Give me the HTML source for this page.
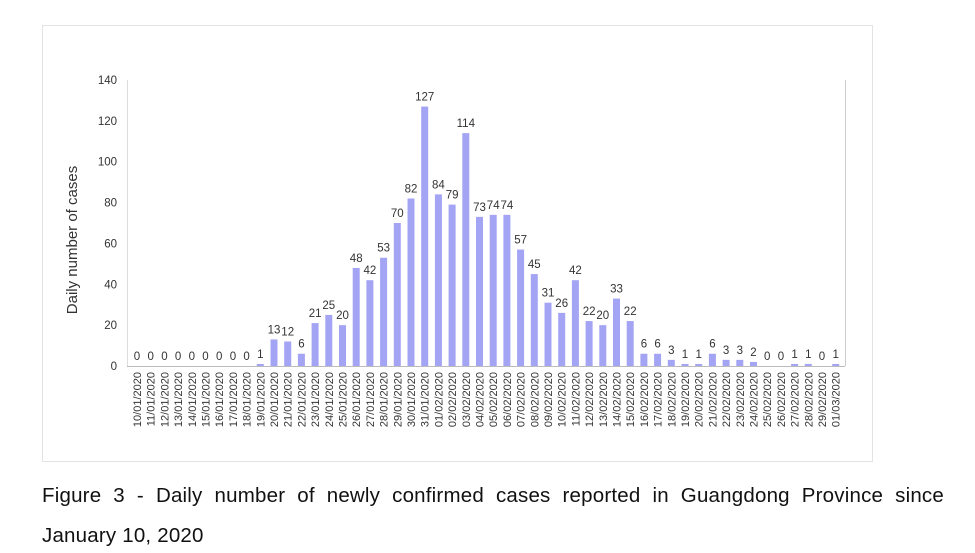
<!DOCTYPE html>
<html><head><meta charset="utf-8"><style>
body{margin:0;background:#fff;width:975px;height:553px;overflow:hidden;font-family:"Liberation Sans",sans-serif}
.cap{position:absolute;left:42px;width:902px;font-size:20.5px;color:#111;text-align:justify;text-align-last:justify;letter-spacing:0.2px}
</style></head><body>
<svg width="975" height="553" style="position:absolute;left:0;top:0" font-family="Liberation Sans, sans-serif">
<rect x="42.5" y="25.5" width="830" height="436" fill="#fff" stroke="#e3e3e3"/>
<g id="g"></g>
</svg>
<div class="cap" style="top:484px">Figure 3 - Daily number of newly confirmed cases reported in Guangdong Province since</div>
<div class="cap" style="top:524px;text-align-last:left">January 10, 2020</div>
<script>
const v=[0,0,0,0,0,0,0,0,0,1,13,12,6,21,25,20,48,42,53,70,82,127,84,79,114,73,74,74,57,45,31,26,42,22,20,33,22,6,6,3,1,1,6,3,3,2,0,0,1,1,0,1];
const d=[];for(let i=10;i<=31;i++)d.push(String(i).padStart(2,'0')+'/01/2020');for(let i=1;i<=29;i++)d.push(String(i).padStart(2,'0')+'/02/2020');d.push('01/03/2020');
let s='';const y0=366,k=(366-80)/140,x0=137,dx=13.7;
s+=`<line x1="127" y1="${y0}.5" x2="845" y2="${y0}.5" stroke="#bbb"/><line x1="845.5" y1="80" x2="845.5" y2="366" stroke="#ccc"/><line x1="127.5" y1="80" x2="127.5" y2="366" stroke="#ddd"/>`;
for(let t=0;t<=140;t+=20){const y=y0-t*k;s+=`<text x="117" y="${y+4}" font-size="11.5" fill="#333" text-anchor="end">${t}</text>`;}
s+=`<text transform="translate(77,240) rotate(-90)" font-size="15" fill="#333" text-anchor="middle">Daily number of cases</text>`;
v.forEach((val,i)=>{const x=x0+i*dx,h=val*k;s+=`<rect x="${x-3.5}" y="${y0-h}" width="7" height="${h}" fill="#a4a4f4"/>`;
s+=`<text x="${x}" y="${y0-h-6}" font-size="11.5" fill="#333" text-anchor="middle">${val}</text>`;
s+=`<text transform="translate(${x+4},372) rotate(-90)" font-size="11" fill="#333" text-anchor="end">${d[i]}</text>`;});
document.getElementById('g').innerHTML=s;
</script>
</body></html>
